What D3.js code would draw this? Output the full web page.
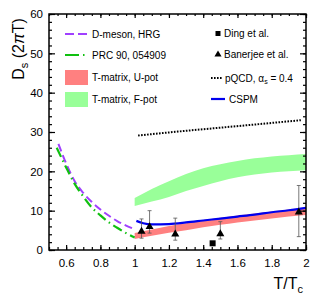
<!DOCTYPE html>
<html>
<head>
<meta charset="utf-8">
<script src="https://cdn.jsdelivr.net/npm/d3@7"></script>
<style>
  body { margin: 0; background: #fff; }
  svg { font-family: "Liberation Sans", Arial, sans-serif; }
</style>
</head>
<body>
<svg id="chart" width="315" height="301"></svg>
<script>
// D-meson HRG (purple dashed) and PRC 90, 054909 (green dash-dot)
const hrg = [[0.555, 27], [0.6, 22], [0.65, 17.5], [0.7, 14.5], [0.75, 12.2], [0.8, 10.3],
             [0.85, 8.7], [0.9, 7.3], [0.95, 6.2], [1.0, 5.3]];
const prc = [[0.545, 26], [0.6, 21], [0.65, 16.8], [0.7, 13.6], [0.75, 10.8], [0.8, 8.8],
             [0.85, 7.0], [0.9, 5.6], [0.95, 4.3], [1.0, 3.2]];

// T-matrix bands: [T, low, high]
const uPot = [[1.0, 2.8, 4.3], [1.1, 3.6, 5.2], [1.2, 4.4, 6.1], [1.3, 5.0, 6.8], [1.4, 5.8, 7.6],
              [1.5, 6.4, 8.2], [1.6, 7.0, 8.8], [1.7, 7.5, 9.3], [1.8, 8.0, 9.8], [1.9, 8.5, 10.3],
              [2.0, 8.9, 10.8]];
const fPot = [[1.0, 11.2, 13.2], [1.1, 12.3, 15.5], [1.2, 13.5, 17.5], [1.3, 15.0, 19.3],
              [1.4, 16.3, 20.8], [1.5, 17.5, 21.8], [1.6, 18.5, 22.6], [1.7, 19.2, 23.3],
              [1.8, 19.7, 23.8], [1.9, 20.0, 24.1], [2.0, 20.3, 24.4]];

// CSPM (blue) and pQCD (dotted)
const cspm = [[1.01, 7.4], [1.05, 6.8], [1.1, 6.5], [1.2, 6.6], [1.3, 7.0], [1.4, 7.5], [1.5, 8.0],
              [1.6, 8.5], [1.7, 9.0], [1.8, 9.6], [1.9, 10.1], [2.0, 10.7]];
const pqcd = [[1.02, 29.1], [1.25, 30.1], [1.5, 31.1], [1.75, 32.1], [1.97, 33.0]];

// lattice points: T, D, errLow, errHigh
const banerjee = [[1.04, 4.7, 3.0, 7.9], [1.087, 5.9, 4.3, 10.0], [1.237, 4.0, 2.5, 8.1],
                  [1.5, 4.1, 2.8, 7.2], [1.958, 9.6, 3.4, 16.4]];
const ding = [[1.455, 1.7]];

const xTicks = [0.6, 0.8, 1, 1.2, 1.4, 1.6, 1.8, 2];
const yTicks = [0, 10, 20, 30, 40, 50, 60];

const mLeft = 49, mRight = 306, mTop = 14, mBottom = 250;

const svg = d3.select("#chart");

const x = d3.scaleLinear().domain([0.5, 2]).range([mLeft, mRight]);
const y = d3.scaleLinear().domain([0, 60]).range([mBottom, mTop]);

svg.append("defs").append("clipPath").attr("id", "clip")
    .append("rect")
    .attr("x", mLeft).attr("y", mTop)
    .attr("width", mRight - mLeft).attr("height", mBottom - mTop);

const plot = svg.append("g").attr("clip-path", "url(#clip)");

const band = d3.area()
    .x(d => x(d[0]))
    .y0(d => y(d[1]))
    .y1(d => y(d[2]))
    .curve(d3.curveMonotoneX);

const line = d3.line()
    .x(d => x(d[0]))
    .y(d => y(d[1]))
    .curve(d3.curveMonotoneX);

plot.append("path").attr("d", band(fPot)).attr("fill", "#99ff99");
plot.append("path").attr("d", band(uPot)).attr("fill", "#ff8080");

plot.append("path").attr("d", line(pqcd))
    .attr("fill", "none").attr("stroke", "#000")
    .attr("stroke-width", 2).attr("stroke-dasharray", "1.6,1.4");

plot.append("path").attr("d", line(hrg))
    .attr("fill", "none").attr("stroke", "#a040ff")
    .attr("stroke-width", 2).attr("stroke-dasharray", "8,4");

plot.append("path").attr("d", line(prc))
    .attr("fill", "none").attr("stroke", "#10c010")
    .attr("stroke-width", 2.2).attr("stroke-dasharray", "10,4,1.5,4");

plot.append("path").attr("d", line(cspm))
    .attr("fill", "none").attr("stroke", "#0000ee")
    .attr("stroke-width", 2.2);

// error bars
const eb = plot.append("g").attr("stroke", "#555").attr("stroke-width", 0.8);
banerjee.forEach(d => {
    eb.append("line").attr("x1", x(d[0])).attr("x2", x(d[0]))
        .attr("y1", y(d[2])).attr("y2", y(d[3]));
    [d[2], d[3]].forEach(v => {
        eb.append("line").attr("x1", x(d[0]) - 2).attr("x2", x(d[0]) + 2)
            .attr("y1", y(v)).attr("y2", y(v));
    });
});

const tri = d3.symbol().type(d3.symbolTriangle).size(28);
plot.selectAll(".tri").data(banerjee).enter().append("path")
    .attr("transform", d => `translate(${x(d[0])},${y(d[1])})`)
    .attr("d", tri).attr("fill", "#000");

plot.selectAll(".sq").data(ding).enter().append("rect")
    .attr("x", d => x(d[0]) - 3).attr("y", d => y(d[1]) - 3)
    .attr("width", 6).attr("height", 6).attr("fill", "#000");

// axes with inward ticks on all four sides
function minor(step, lo, hi) {
    return d3.range(lo, hi + step / 2, step).map(v => +v.toFixed(3));
}
const xMinor = minor(0.05, 0.5, 2);
const yMinor = minor(2, 0, 60);

const axes = svg.append("g");
axes.append("g").attr("transform", `translate(0,${mBottom})`)
    .call(d3.axisBottom(x).tickValues(xMinor).tickSize(-3).tickFormat(""));
axes.append("g").attr("transform", `translate(0,${mBottom})`)
    .call(d3.axisBottom(x).tickValues(xTicks).tickSize(-5).tickPadding(9).tickFormat(d3.format("")));
axes.append("g").attr("transform", `translate(0,${mTop})`)
    .call(d3.axisTop(x).tickValues(xMinor).tickSize(-2).tickFormat(""));
axes.append("g").attr("transform", `translate(0,${mTop})`)
    .call(d3.axisTop(x).tickValues(xTicks).tickSize(-4).tickFormat(""));
axes.append("g").attr("transform", `translate(${mLeft},0)`)
    .call(d3.axisLeft(y).tickValues(yMinor).tickSize(-3).tickFormat(""));
axes.append("g").attr("transform", `translate(${mLeft},0)`)
    .call(d3.axisLeft(y).tickValues(yTicks).tickSize(-6).tickPadding(6));
axes.append("g").attr("transform", `translate(${mRight},0)`)
    .call(d3.axisRight(y).tickValues(yMinor).tickSize(-3).tickFormat(""));
axes.append("g").attr("transform", `translate(${mRight},0)`)
    .call(d3.axisRight(y).tickValues(yTicks).tickSize(-6).tickFormat(""));

axes.selectAll(".domain").remove();
axes.selectAll(".tick line").attr("stroke", "#000").attr("stroke-width", 1.2);
axes.selectAll(".tick text").attr("font-size", 11.5).attr("fill", "#000")
    .attr("font-family", "Liberation Sans, Arial, sans-serif");

svg.append("rect")
    .attr("x", mLeft).attr("y", mTop)
    .attr("width", mRight - mLeft).attr("height", mBottom - mTop)
    .attr("fill", "none").attr("stroke", "#000").attr("stroke-width", 1.5);

// axis titles
const yt = svg.append("text")
    .attr("transform", "translate(24,49) rotate(-90)")
    .attr("text-anchor", "middle").attr("font-size", 16);
yt.append("tspan").text("D");
yt.append("tspan").attr("font-size", 11).attr("dy", 4).text("s");
yt.append("tspan").attr("dy", -4).text(" (2");
yt.append("tspan").attr("font-style", "italic").text("π");
yt.append("tspan").text("T)");

const xt = svg.append("text")
    .attr("x", 303).attr("y", 289)
    .attr("text-anchor", "end").attr("font-size", 16);
xt.append("tspan").text("T/T");
xt.append("tspan").attr("font-size", 11).attr("dy", 4).text("c");

// legend
const lg = svg.append("g").attr("font-size", 10).attr("fill", "#000");

lg.append("line").attr("x1", 65).attr("x2", 88).attr("y1", 34).attr("y2", 34)
    .attr("stroke", "#a040ff").attr("stroke-width", 2).attr("stroke-dasharray", "9,4");
lg.append("text").attr("x", 92).attr("y", 37.5).text("D-meson, HRG");

lg.append("line").attr("x1", 65).attr("x2", 88).attr("y1", 55).attr("y2", 55)
    .attr("stroke", "#10c010").attr("stroke-width", 2.2).attr("stroke-dasharray", "14,4,1.5,4");
lg.append("text").attr("x", 92).attr("y", 58.5).text("PRC 90, 054909");

lg.append("rect").attr("x", 65).attr("y", 70).attr("width", 23).attr("height", 15).attr("fill", "#ff8080");
lg.append("text").attr("x", 92).attr("y", 81).text("T-matrix, U-pot");

lg.append("rect").attr("x", 65).attr("y", 92).attr("width", 23).attr("height", 15).attr("fill", "#99ff99");
lg.append("text").attr("x", 92).attr("y", 103).text("T-matrix, F-pot");

lg.append("rect").attr("x", 215.5).attr("y", 31).attr("width", 5).attr("height", 5).attr("fill", "#000");
lg.append("text").attr("x", 224).attr("y", 37).text("Ding et al.");

lg.append("path").attr("transform", "translate(218,54.5)")
    .attr("d", d3.symbol().type(d3.symbolTriangle).size(22)).attr("fill", "#000");
lg.append("text").attr("x", 224).attr("y", 58).text("Banerjee et al.");

lg.append("line").attr("x1", 211).attr("x2", 223).attr("y1", 78).attr("y2", 78)
    .attr("stroke", "#000").attr("stroke-width", 2).attr("stroke-dasharray", "1.6,1.4");
const pq = lg.append("text").attr("x", 225).attr("y", 81.5);
pq.append("tspan").text("pQCD, α");
pq.append("tspan").attr("font-size", 7).attr("dy", 2).text("s");
pq.append("tspan").attr("dy", -2).text(" = 0.4");

lg.append("line").attr("x1", 211).attr("x2", 225).attr("y1", 99).attr("y2", 99)
    .attr("stroke", "#0000ee").attr("stroke-width", 2.2);
lg.append("text").attr("x", 229).attr("y", 102.5).text("CSPM");
</script>
</body>
</html>
